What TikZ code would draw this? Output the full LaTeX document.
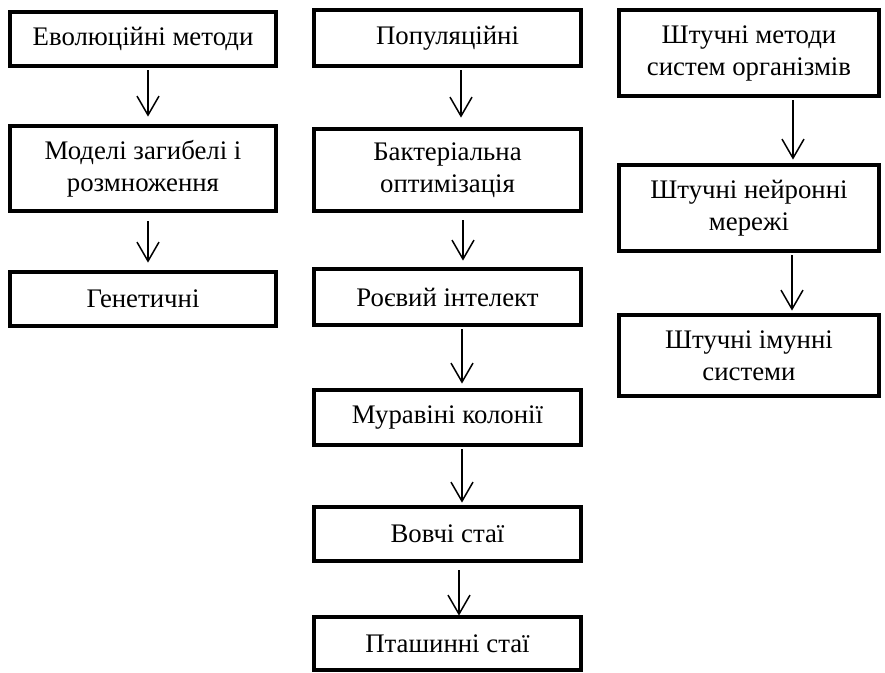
\documentclass[tikz,border=0pt]{standalone}
\usepackage{fontspec}
\setmainfont{Liberation Serif}
\usetikzlibrary{arrows.meta}
\begin{document}
\begin{tikzpicture}[x=0.5pt,y=-0.5pt,
  box/.style={draw,line width=2.4pt,rectangle,inner sep=0pt,align=center,
    font=\fontsize{13.4}{16}\selectfont},
  arr/.style={line width=0.75pt,-{Straight Barb[length=9.5pt,width=11pt,line width=0.75pt]}}]
\useasboundingbox (0,0) rectangle (885,673);
% left column
\node[box,minimum width=133pt,minimum height=27pt] (l1) at (143,39) {Еволюційні методи};
\node[box,minimum width=133pt,minimum height=42.5pt] (l2) at (143,168.5) {Моделі загибелі і\\розмноження};
\node[box,minimum width=133pt,minimum height=27pt] (l3) at (143,299) {Генетичні};
% middle column
\node[box,minimum width=133.5pt,minimum height=28pt] (m1) at (447.5,38) {Популяційні};
\node[box,minimum width=133.5pt,minimum height=41pt] (m2) at (447.5,170) {Бактеріальна\\оптимізація};
\node[box,minimum width=133.5pt,minimum height=28pt] (m3) at (447.5,297) {Роєвий інтелект};
\node[box,minimum width=133.5pt,minimum height=27.5pt] (m4) at (447.5,417.5) {Муравіні колонії};
\node[box,minimum width=133.5pt,minimum height=27pt] (m5) at (447.5,534) {Вовчі стаї};
\node[box,minimum width=133.5pt,minimum height=26.5pt] (m6) at (447.5,643.5) {Пташинні стаї};
% right column
\node[box,minimum width=130pt,minimum height=43pt] (r1) at (749,53) {Штучні методи\\систем організмів};
\node[box,minimum width=130pt,minimum height=43pt] (r2) at (749,208) {Штучні нейронні\\мережі};
\node[box,minimum width=130pt,minimum height=40.5pt] (r3) at (749,355.5) {Штучні імунні\\системи};
% arrows
\draw[arr,shorten <=1pt,shorten >=3.5pt] ([xshift=2.5pt]l1.south) -- ([xshift=2.5pt]l2.north);
\draw[arr,shorten <=4pt,shorten >=3.5pt] ([xshift=2.5pt]l2.south) -- ([xshift=2.5pt]l3.north);
\draw[arr,shorten <=1pt,shorten >=4.5pt] ([xshift=6.75pt]m1.south) -- ([xshift=6.75pt]m2.north);
\draw[arr,shorten <=3.5pt,shorten >=3pt] ([xshift=7.75pt]m2.south) -- ([xshift=7.75pt]m3.north);
\draw[arr,shorten <=1pt,shorten >=2pt] ([xshift=7.25pt]m3.south) -- ([xshift=7.25pt]m4.north);
\draw[arr,shorten <=1pt,shorten >=1pt] ([xshift=7.25pt]m4.south) -- ([xshift=7.25pt]m5.north);
\draw[arr,shorten <=3.5pt,shorten >=-0.5pt] ([xshift=5.75pt]m5.south) -- ([xshift=5.75pt]m6.north);
\draw[arr,shorten <=1pt,shorten >=1.5pt] ([xshift=22pt]r1.south) -- ([xshift=22pt]r2.north);
\draw[arr,shorten <=1pt,shorten >=1pt] ([xshift=21.5pt]r2.south) -- ([xshift=21.5pt]r3.north);
\end{tikzpicture}
\end{document}
